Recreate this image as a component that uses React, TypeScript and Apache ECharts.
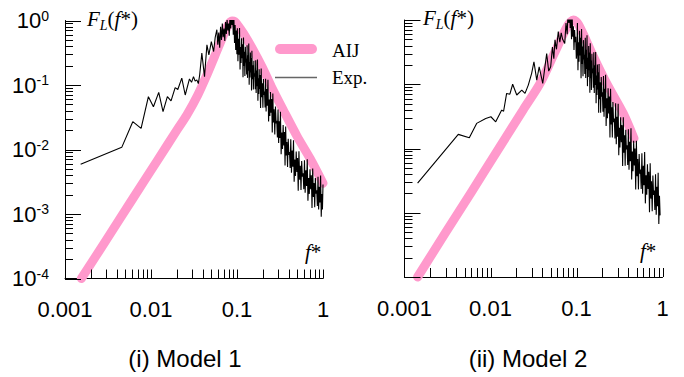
import React, { useEffect, useRef } from "react";
import * as echarts from "echarts";

const xTickLabels: Record<string, string> = { "-3": "0.001", "-2": "0.01", "-1": "0.1", "0": "1" };
const xTickValues = [
  0.002, 0.003, 0.004, 0.005, 0.006, 0.007, 0.008, 0.009, 0.01,
  0.02, 0.03, 0.04, 0.05, 0.06, 0.07, 0.08, 0.09, 0.1,
  0.2, 0.3, 0.4, 0.5, 0.6, 0.7, 0.8, 0.9, 1,
];
const yMajorTicks = [0.0001, 0.001, 0.01, 0.1, 1];
const yMinorTicks = [
  0.0002, 0.0003, 0.0004, 0.0005, 0.0006, 0.0007, 0.0008, 0.0009,
  0.002, 0.003, 0.004, 0.005, 0.006, 0.007, 0.008, 0.009,
  0.02, 0.03, 0.04, 0.05, 0.06, 0.07, 0.08, 0.09,
  0.2, 0.3, 0.4, 0.5, 0.6, 0.7, 0.8, 0.9,
];

const panelTitles = ["(i) Model 1", "(ii) Model 2"];
const legendNames = ["AIJ", "Exp."];

// AIJ spectrum, model 1
const aij1 = [
  [0.00155, 0.0001], [0.003, 0.00039], [0.006, 0.00165], [0.012, 0.0069], [0.02, 0.02],
  [0.0261, 0.0343], [0.035, 0.07], [0.0446, 0.143], [0.055, 0.28], [0.0637, 0.45],
  [0.075, 0.74], [0.082, 0.92], [0.088, 0.98], [0.094, 0.96], [0.1, 0.88], [0.12, 0.62],
  [0.154, 0.35], [0.2, 0.18], [0.25, 0.095], [0.345, 0.041], [0.5, 0.016], [0.71, 0.0072], [1.0, 0.003],
];

// Experiment, model 1
const exp1 = [
  [0.00152, 0.0059], [0.00457, 0.0108], [0.00614, 0.027], [0.00767, 0.0213], [0.00933, 0.066],
  [0.01067, 0.046], [0.0123, 0.077], [0.0138, 0.0386], [0.0155, 0.066], [0.0171, 0.0566],
  [0.0191, 0.091], [0.0205, 0.085], [0.0228, 0.128], [0.025, 0.07], [0.028, 0.124],
  [0.0296, 0.11], [0.0312, 0.135], [0.0326, 0.115], [0.0341, 0.12], [0.0355, 0.105], [0.0368, 0.143],
  [0.039, 0.312], [0.0419, 0.135], [0.0447, 0.42], [0.0471, 0.293], [0.0503, 0.47], [0.0535, 0.33],
  [0.0558, 0.55], [0.0583, 0.72], [0.0598, 0.42], [0.0613, 0.65], [0.0629, 0.38], [0.0644, 0.8],
  [0.066, 0.5], [0.0675, 0.9], [0.069, 0.55], [0.0706, 0.75], [0.0721, 0.48], [0.0736, 0.95],
  [0.0752, 0.62], [0.0767, 1.05], [0.0782, 0.7], [0.0798, 0.9], [0.0813, 0.58], [0.0828, 1.2],
  [0.0844, 0.75], [0.0859, 1.45], [0.0874, 0.85], [0.089, 1.3], [0.0905, 0.6], [0.092, 1.1],
  [0.0936, 0.45], [0.0951, 0.85], [0.0966, 0.35], [0.0982, 0.7], [0.0997, 0.3],
  [0.101, 0.755], [0.1025, 0.233], [0.104, 0.519], [0.1055, 0.294], [0.107, 0.763], [0.1085, 0.174],
  [0.11, 0.388], [0.1115, 0.22], [0.113, 0.531], [0.1145, 0.259], [0.116, 0.428], [0.1175, 0.132],
  [0.119, 0.544], [0.1205, 0.197], [0.122, 0.327], [0.1235, 0.138], [0.125, 0.39], [0.1265, 0.224],
  [0.128, 0.254], [0.1295, 0.146], [0.131, 0.412], [0.1325, 0.129], [0.134, 0.29], [0.1355, 0.167],
  [0.137, 0.438], [0.1385, 0.101], [0.14, 0.228], [0.1415, 0.131], [0.143, 0.319], [0.1445, 0.157],
  [0.146, 0.262], [0.1475, 0.082], [0.149, 0.341], [0.151, 0.123], [0.153, 0.202], [0.155, 0.085],
  [0.157, 0.237], [0.159, 0.135], [0.161, 0.152], [0.163, 0.0863], [0.165, 0.242], [0.167, 0.075],
  [0.169, 0.1675], [0.171, 0.0955], [0.173, 0.248], [0.175, 0.0569], [0.177, 0.127], [0.179, 0.0726],
  [0.181, 0.176], [0.183, 0.0865], [0.185, 0.143], [0.188, 0.044], [0.191, 0.18], [0.194, 0.0646],
  [0.197, 0.106], [0.2, 0.0443], [0.203, 0.124], [0.206, 0.0701], [0.209, 0.0789], [0.212, 0.0448],
  [0.215, 0.125], [0.218, 0.0388], [0.221, 0.0863], [0.225, 0.0479], [0.229, 0.121], [0.233, 0.0271],
  [0.237, 0.0593], [0.241, 0.033], [0.245, 0.078], [0.249, 0.0373], [0.253, 0.0604], [0.257, 0.0184],
  [0.261, 0.0741], [0.265, 0.0263], [0.27, 0.0421], [0.275, 0.0171], [0.28, 0.0462], [0.285, 0.0255],
  [0.29, 0.0278], [0.295, 0.0153], [0.3, 0.0418], [0.305, 0.0126], [0.31, 0.0273], [0.315, 0.0151],
  [0.32, 0.0384], [0.326, 0.00845], [0.332, 0.0183], [0.338, 0.0102], [0.344, 0.024], [0.35, 0.0115],
  [0.356, 0.0186], [0.362, 0.00565], [0.368, 0.0228], [0.374, 0.00807], [0.38, 0.0131], [0.387, 0.00537],
  [0.394, 0.0147], [0.401, 0.00822], [0.408, 0.00916], [0.415, 0.00516], [0.422, 0.01435], [0.43, 0.00438],
  [0.438, 0.00964], [0.446, 0.00542], [0.454, 0.0139], [0.462, 0.00315], [0.47, 0.00697], [0.479, 0.0039],
  [0.488, 0.00927], [0.497, 0.00448], [0.506, 0.00736], [0.515, 0.00229], [0.525, 0.0094], [0.535, 0.00339],
  [0.545, 0.0056], [0.555, 0.00236], [0.565, 0.00664], [0.576, 0.00378], [0.587, 0.00427], [0.598, 0.00243],
  [0.609, 0.00684], [0.62, 0.00213], [0.632, 0.00475], [0.644, 0.00271], [0.656, 0.00705], [0.668, 0.00161],
  [0.68, 0.00361], [0.693, 0.00205], [0.706, 0.00494], [0.719, 0.00242], [0.732, 0.00399], [0.745, 0.00124],
  [0.759, 0.00508], [0.773, 0.00184], [0.787, 0.00303], [0.801, 0.00127], [0.815, 0.0036], [0.83, 0.00206],
  [0.845, 0.00233], [0.86, 0.00133], [0.875, 0.00377], [0.89, 0.00117], [0.906, 0.00264], [0.922, 0.00151],
  [0.938, 0.00395], [0.954, 0.00091], [0.97, 0.00205], [0.985, 0.00117], [1.0, 0.00286],
];

// AIJ spectrum, model 2
const aij2 = [
  [0.00142, 0.0001], [0.003, 0.00049], [0.006, 0.0021], [0.012, 0.0092], [0.024, 0.04],
  [0.0377, 0.103], [0.055, 0.3], [0.07, 0.6], [0.08, 0.84], [0.086, 0.95], [0.092, 1.0],
  [0.098, 0.96], [0.105, 0.86], [0.12, 0.6], [0.157, 0.27], [0.224, 0.103], [0.35, 0.035], [0.466, 0.0144],
];

// Experiment, model 2
const exp2 = [
  [0.00142, 0.0029], [0.00422, 0.0166], [0.00567, 0.0147], [0.0069, 0.0246], [0.0088, 0.0294],
  [0.0101, 0.0312], [0.0115, 0.026], [0.0135, 0.0396], [0.0142, 0.038], [0.0154, 0.072],
  [0.0168, 0.07], [0.0181, 0.1], [0.0202, 0.068], [0.0231, 0.081], [0.0252, 0.072], [0.0275, 0.097],
  [0.0301, 0.148], [0.032, 0.224], [0.0345, 0.116], [0.0368, 0.187], [0.0405, 0.103], [0.045, 0.3],
  [0.0475, 0.16], [0.0501, 0.187], [0.0525, 0.38], [0.0545, 0.25], [0.0562, 0.49], [0.0585, 0.35],
  [0.0614, 0.66], [0.064, 0.45], [0.0664, 0.63], [0.069, 0.5], [0.073, 0.43], [0.0755, 0.9],
  [0.078, 0.6], [0.08, 1.6], [0.0815, 0.9], [0.083, 1.7], [0.0845, 0.75], [0.086, 1.1],
  [0.0875, 0.5], [0.089, 1.2], [0.0905, 0.55], [0.092, 0.8], [0.0935, 0.34], [0.095, 0.7],
  [0.0965, 0.45], [0.098, 0.55], [0.0995, 0.25],
  [0.101, 0.31], [0.1025, 0.9], [0.104, 0.165], [0.1055, 0.451], [0.107, 0.225], [0.1085, 0.679],
  [0.11, 0.281], [0.1115, 0.528], [0.113, 0.124], [0.1145, 0.724], [0.116, 0.206], [0.1175, 0.388],
  [0.119, 0.133], [0.1205, 0.486], [0.122, 0.244], [0.1235, 0.288], [0.125, 0.145], [0.1265, 0.528],
  [0.128, 0.125], [0.1295, 0.344], [0.131, 0.173], [0.1325, 0.577], [0.134, 0.0935], [0.1355, 0.258],
  [0.137, 0.13], [0.1385, 0.394], [0.14, 0.165], [0.1415, 0.312], [0.143, 0.074], [0.1445, 0.435],
  [0.146, 0.124], [0.1475, 0.235], [0.149, 0.0817], [0.151, 0.297], [0.153, 0.149], [0.155, 0.175],
  [0.157, 0.0879], [0.159, 0.315], [0.161, 0.073], [0.163, 0.197], [0.165, 0.0975], [0.167, 0.318],
  [0.169, 0.0507], [0.171, 0.137], [0.173, 0.0679], [0.175, 0.202], [0.177, 0.083], [0.179, 0.154],
  [0.181, 0.036], [0.183, 0.207], [0.185, 0.0585], [0.188, 0.107], [0.191, 0.036], [0.194, 0.13],
  [0.197, 0.0643], [0.2, 0.0748], [0.203, 0.0372], [0.206, 0.134], [0.209, 0.0313], [0.212, 0.0853],
  [0.215, 0.0425], [0.218, 0.14], [0.221, 0.0224], [0.225, 0.0604], [0.229, 0.0295], [0.233, 0.0867],
  [0.237, 0.0352], [0.241, 0.0646], [0.245, 0.0149], [0.249, 0.0851], [0.253, 0.0237], [0.257, 0.0438],
  [0.261, 0.0148], [0.265, 0.0527], [0.27, 0.0256], [0.275, 0.0292], [0.28, 0.0143], [0.285, 0.0507],
  [0.29, 0.0116], [0.295, 0.0312], [0.3, 0.0153], [0.305, 0.0495], [0.31, 0.00783], [0.315, 0.0211],
  [0.32, 0.01035], [0.326, 0.0307], [0.332, 0.0125], [0.338, 0.0231], [0.344, 0.00535], [0.35, 0.0307],
  [0.356, 0.00861], [0.362, 0.016], [0.368, 0.00541], [0.374, 0.0195], [0.38, 0.00964], [0.387, 0.0112],
  [0.394, 0.00555], [0.401, 0.02], [0.408, 0.00467], [0.415, 0.0127], [0.422, 0.00632], [0.43, 0.0207],
  [0.438, 0.0033], [0.446, 0.00895], [0.454, 0.00444], [0.462, 0.0132], [0.47, 0.00542], [0.479, 0.01],
  [0.488, 0.00231], [0.497, 0.0132], [0.506, 0.00371], [0.515, 0.00686], [0.525, 0.00231], [0.535, 0.00824],
  [0.545, 0.00406], [0.555, 0.00471], [0.565, 0.00234], [0.576, 0.00845], [0.587, 0.00197], [0.598, 0.00537],
  [0.609, 0.00267], [0.62, 0.00879], [0.632, 0.0014], [0.644, 0.00382], [0.656, 0.0019], [0.668, 0.00568],
  [0.68, 0.00234], [0.693, 0.00436], [0.706, 0.00102], [0.719, 0.00589], [0.732, 0.00166], [0.745, 0.0031],
  [0.759, 0.00106], [0.773, 0.00381], [0.787, 0.0019], [0.801, 0.00221], [0.815, 0.0011], [0.83, 0.00397],
  [0.845, 0.00093], [0.86, 0.00254], [0.875, 0.00126], [0.89, 0.00418], [0.906, 0.00067], [0.922, 0.00183],
  [0.938, 0.00091],
];

const PINK = "#ff99cc";
const SANS = "Liberation Sans, Arial, sans-serif";
const SERIF = "Liberation Serif, Times New Roman, serif";

function tickSeries(idx: number, values: number[], dir: "x" | "y", len: number) {
  return {
    type: "custom",
    xAxisIndex: idx,
    yAxisIndex: idx,
    silent: true,
    clip: false,
    z: 5,
    data: values.map((v) => (dir === "x" ? [v, 0.0001] : [0.001, v])),
    renderItem: (_p: any, api: any) => {
      const pt = api.coord([api.value(0), api.value(1)]);
      if (dir === "x") {
        const x = Math.round(pt[0]) + 0.5;
        return {
          type: "line",
          shape: { x1: x, y1: pt[1], x2: x, y2: pt[1] - len },
          style: { stroke: "#000", lineWidth: 1 },
        };
      }
      const y = Math.round(pt[1]) + 0.5;
      return {
        type: "line",
        shape: { x1: pt[0], y1: y, x2: pt[0] + len, y2: y },
        style: { stroke: "#000", lineWidth: 1 },
      };
    },
  };
}

function xAxisOpt(idx: number) {
  return {
    type: "log",
    logBase: 10,
    gridIndex: idx,
    min: 0.001,
    max: 1,
    axisLine: { show: true, lineStyle: { color: "#000", width: 1 } },
    axisTick: { show: false },
    splitLine: { show: false },
    minorTick: { show: false },
    axisLabel: {
      show: true,
      margin: 20,
      fontSize: 22,
      fontFamily: SANS,
      color: "#000",
      formatter: (v: number) => xTickLabels[String(Math.round(Math.log10(v)))] ?? "",
    },
  };
}

function yAxisOpt(idx: number, showLabels: boolean) {
  return {
    type: "log",
    logBase: 10,
    gridIndex: idx,
    min: 0.0001,
    max: 1,
    axisLine: { show: true, lineStyle: { color: "#000", width: 1 } },
    axisTick: { show: false },
    splitLine: { show: false },
    minorTick: { show: false },
    axisLabel: {
      show: showLabels,
      margin: 16,
      formatter: (v: number) => `{b|10}{s|${Math.round(Math.log10(v))}}`,
      rich: {
        b: { fontSize: 22, fontFamily: SANS, color: "#000", lineHeight: 24 },
        s: { fontSize: 14, fontFamily: SANS, color: "#000", lineHeight: 14, verticalAlign: "top" },
      },
    },
  };
}

function flLabel(x: number, y: number) {
  return {
    type: "text",
    x,
    y,
    style: {
      text: "{i|F}{sub|L}{n|(}{i|f}{n|*)}",
      rich: {
        i: { fontSize: 21, fontFamily: SERIF, fontStyle: "italic", fill: "#000", lineHeight: 24, verticalAlign: "top" },
        sub: { fontSize: 14, fontFamily: SERIF, fontStyle: "italic", fill: "#000", lineHeight: 16, verticalAlign: "bottom" },
        n: { fontSize: 21, fontFamily: SERIF, fill: "#000", lineHeight: 24, verticalAlign: "top" },
      },
    },
  };
}

function fStarLabel(x: number, y: number) {
  return {
    type: "text",
    x,
    y,
    style: {
      text: "{i|f}{n|*}",
      rich: {
        i: { fontSize: 21, fontFamily: SERIF, fontStyle: "italic", fill: "#000" },
        n: { fontSize: 21, fontFamily: SERIF, fill: "#000" },
      },
    },
  };
}

export default function App() {
  const ref = useRef<HTMLDivElement>(null);
  useEffect(() => {
    if (!ref.current) return;
    const chart = echarts.init(ref.current, undefined, { renderer: "svg" });
    chart.setOption({
      animation: false,
      backgroundColor: "#fff",
      grid: [
        { left: 65, top: 20.5, width: 258, height: 258 },
        { left: 404.5, top: 20, width: 258, height: 257 },
      ],
      xAxis: [xAxisOpt(0), xAxisOpt(1)],
      yAxis: [yAxisOpt(0, true), yAxisOpt(1, false)],
      series: [
        {
          name: legendNames[0], type: "line", xAxisIndex: 0, yAxisIndex: 0, data: aij1, showSymbol: false,
          symbol: "none", clip: false, z: 2, smooth: 0.3,
          lineStyle: { color: PINK, width: 9, cap: "round", join: "round" },
        },
        {
          name: legendNames[1], type: "line", xAxisIndex: 0, yAxisIndex: 0, data: exp1, symbol: "none", z: 3,
          lineStyle: { color: "#000", width: 1.1 },
        },
        {
          name: legendNames[0], type: "line", xAxisIndex: 1, yAxisIndex: 1, data: aij2, showSymbol: false,
          symbol: "none", clip: false, z: 2, smooth: 0.3,
          lineStyle: { color: PINK, width: 9, cap: "round", join: "round" },
        },
        {
          name: legendNames[1], type: "line", xAxisIndex: 1, yAxisIndex: 1, data: exp2, symbol: "none", z: 3,
          lineStyle: { color: "#000", width: 1.1 },
        },
        tickSeries(0, xTickValues, "x", 9),
        tickSeries(0, yMajorTicks, "y", 16),
        tickSeries(0, yMinorTicks, "y", 8),
        tickSeries(1, xTickValues, "x", 9),
        tickSeries(1, yMajorTicks, "y", 16),
        tickSeries(1, yMinorTicks, "y", 8),
      ],
      graphic: [
        { type: "line", shape: { x1: 280, y1: 49, x2: 312, y2: 49 }, style: { stroke: PINK, lineWidth: 10, lineCap: "round" } },
        { type: "line", shape: { x1: 275, y1: 77.5, x2: 317, y2: 77.5 }, style: { stroke: "#666", lineWidth: 1.5 } },
        { type: "text", x: 332, y: 50, style: { text: legendNames[0], fontSize: 19, fontFamily: SERIF, fill: "#000", verticalAlign: "middle" } },
        { type: "text", x: 332, y: 77, style: { text: legendNames[1], fontSize: 19, fontFamily: SERIF, fill: "#000", verticalAlign: "middle" } },
        flLabel(87, 8),
        flLabel(423, 7),
        fStarLabel(305, 241),
        fStarLabel(640, 240),
        { type: "text", x: 185, y: 358, style: { text: panelTitles[0], fontSize: 24, fontFamily: SANS, fill: "#000", align: "center", verticalAlign: "middle" } },
        { type: "text", x: 528, y: 358, style: { text: panelTitles[1], fontSize: 24, fontFamily: SANS, fill: "#000", align: "center", verticalAlign: "middle" } },
      ],
    });
    return () => chart.dispose();
  }, []);
  return <div ref={ref} style={{ width: 684, height: 377, position: "absolute", left: 0, top: 0 }} />;
}
